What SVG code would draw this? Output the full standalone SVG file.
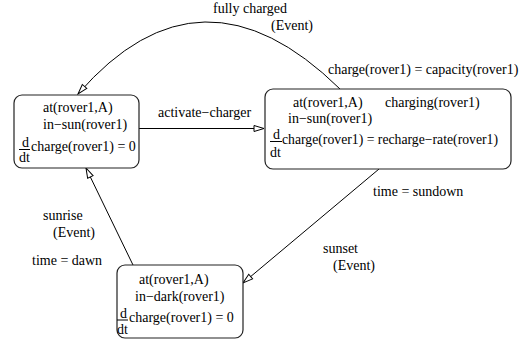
<svg xmlns="http://www.w3.org/2000/svg" width="520" height="341" viewBox="0 0 520 341">
  <style>
    text { font-family: "Liberation Serif", "Times New Roman", serif; font-size: 14px; fill: #000; }
    .box { fill: #fff; stroke: #222; stroke-width: 1.2; }
    .edge { fill: none; stroke: #000; stroke-width: 1; }
    .frac { stroke: #000; stroke-width: 1; }
  </style>
  <defs>
    <marker id="open-arrow" markerUnits="userSpaceOnUse" markerWidth="12" markerHeight="8" refX="10" refY="3" orient="auto" overflow="visible">
      <path d="M0,0 L10,3 L0,6 Z" fill="#fff" stroke="#000" stroke-width="1"/>
    </marker>
  </defs>

  <rect width="520" height="341" fill="#fff"/>

  <!-- transitions -->
  <g id="connectors">
    <path class="edge" d="M139,128.5 L264,128.5" marker-end="url(#open-arrow)"/>
    <path class="edge" d="M340,89 Q201,-47.5 78,94" marker-end="url(#open-arrow)"/>
    <path class="edge" d="M379,169 L243,283" marker-end="url(#open-arrow)"/>
    <path class="edge" d="M133,265 L86,168" marker-end="url(#open-arrow)"/>
  </g>

  <!-- transition labels -->
  <g id="labels">
    <text x="158" y="117">activate−charger</text>
    <text x="213" y="13">fully charged</text>
    <text x="271" y="30">(Event)</text>
    <text x="328" y="74">charge(rover1) = capacity(rover1)</text>
    <text x="373" y="196">time = sundown</text>
    <text x="323" y="253">sunset</text>
    <text x="333" y="270">(Event)</text>
    <text x="43" y="220">sunrise</text>
    <text x="53" y="237">(Event)</text>
    <text x="32" y="265">time = dawn</text>
  </g>

  <!-- state: in sun, not charging -->
  <g id="state-sun">
    <rect class="box" x="14" y="95" width="125" height="73" rx="8"/>
    <text x="43" y="112">at(rover1,A)</text>
    <text x="43" y="129">in−sun(rover1)</text>
    <text x="22" y="147">d</text>
    <line class="frac" x1="19" y1="149.5" x2="30" y2="149.5"/>
    <text x="19" y="162">dt</text>
    <text x="31" y="151">charge(rover1) = 0</text>
  </g>

  <!-- state: charging -->
  <g id="state-charging">
    <rect class="box" x="265" y="89" width="246" height="80" rx="8"/>
    <text x="293" y="107">at(rover1,A)</text>
    <text x="385" y="107">charging(rover1)</text>
    <text x="288" y="123">in−sun(rover1)</text>
    <text x="273" y="139">d</text>
    <line class="frac" x1="270" y1="141.5" x2="282" y2="141.5"/>
    <text x="270" y="157">dt</text>
    <text x="282" y="144" textLength="216" lengthAdjust="spacingAndGlyphs">charge(rover1) = recharge−rate(rover1)</text>
  </g>

  <!-- state: dark -->
  <g id="state-dark">
    <rect class="box" x="117" y="265" width="126" height="73" rx="8"/>
    <text x="139" y="284">at(rover1,A)</text>
    <text x="135" y="301">in−dark(rover1)</text>
    <text x="120" y="318">d</text>
    <line class="frac" x1="117" y1="320" x2="128" y2="320"/>
    <text x="117" y="334">dt</text>
    <text x="129" y="322">charge(rover1) = 0</text>
  </g>
</svg>
